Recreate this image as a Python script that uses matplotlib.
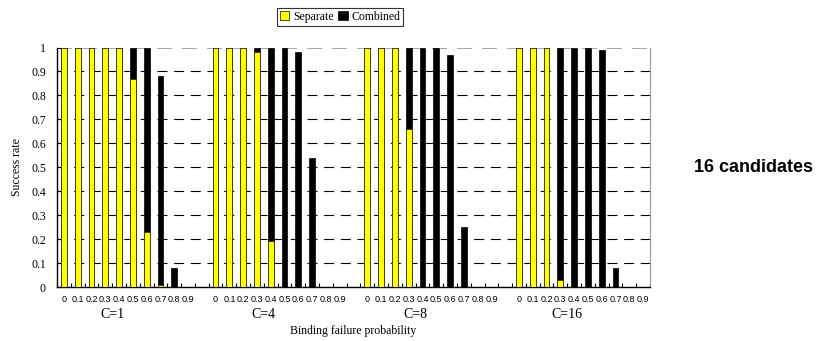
import matplotlib
matplotlib.use("Agg")
import matplotlib.pyplot as plt
import numpy as np

# ---- data ----
probabilities = ['0', '0.1', '0.2', '0.3', '0.4', '0.5', '0.6', '0.7', '0.8', '0.9']
groups = ['C=1', 'C=4', 'C=8', 'C=16']

separate_c1 = [1, 1, 1, 1, 1, 0.87, 0.23, 0.01, 0, 0]
combined_c1 = [1, 1, 1, 1, 1, 1, 1, 0.88, 0.08, 0]
separate_c4 = [1, 1, 1, 0.98, 0.19, 0, 0, 0, 0, 0]
combined_c4 = [1, 1, 1, 1, 1, 1, 0.98, 0.54, 0, 0]
separate_c8 = [1, 1, 1, 0.66, 0, 0, 0, 0, 0, 0]
combined_c8 = [1, 1, 1, 1, 1, 1, 0.97, 0.25, 0, 0]
separate_c16 = [1, 1, 1, 0.03, 0, 0, 0, 0, 0, 0]
combined_c16 = [1, 1, 1, 1, 1, 1, 0.99, 0.08, 0, 0]

separate = [separate_c1, separate_c4, separate_c8, separate_c16]
combined = [combined_c1, combined_c4, combined_c8, combined_c16]

yticks = [0, 0.1, 0.2, 0.3, 0.4, 0.5, 0.6, 0.7, 0.8, 0.9, 1]
ytick_labels = ['0', '0.1', '0.2', '0.3', '0.4', '0.5', '0.6', '0.7', '0.8', '0.9', '1']

serif = 'Liberation Serif'
sans = 'Liberation Sans'

fig = plt.figure(figsize=(8.19, 3.41), dpi=100)
W, H = 819, 341
ax = fig.add_axes([57 / W, 1 - 287 / H, (650 - 57) / W, (287 - 47.5) / H])

n = len(probabilities)
stride = n + 1
bw = 0.42
for g in range(len(groups)):
    xs = np.arange(n) + g * stride
    ax.bar(xs, combined[g], width=bw, color='black', edgecolor='black', linewidth=0.5, zorder=2,
           label='Combined' if g == 0 else None)
    ax.bar(xs, separate[g], width=bw, color='#FFFF00', edgecolor='#333300', linewidth=0.6, zorder=3,
           label='Separate' if g == 0 else None)

total = len(groups) * stride - 1
ax.set_xlim(-0.5, total - 0.5)
ax.set_ylim(0, 1)

# x ticks: labels at category centers, tick marks at category boundaries
centers = []
labels = []
for g in range(len(groups)):
    for i in range(n):
        centers.append(g * stride + i)
        labels.append(probabilities[i])
ax.set_xticks(centers)
ax.set_xticklabels(labels, fontsize=6.5, family=sans)
ax.tick_params(axis='x', which='major', length=0, pad=6)
ax.set_xticks(np.arange(-0.5, total, 1.0), minor=True)
ax.tick_params(axis='x', which='minor', direction='in', length=3, width=0.8)

ax.set_yticks(yticks)
ax.set_yticklabels(ytick_labels, fontsize=8.5, family=serif)
ax.tick_params(axis='y', direction='in', length=3, width=0.8, pad=8)

# grid lines
for y in yticks[1:-1]:
    ax.axhline(y, color='black', linewidth=0.8, linestyle=(0, (9, 6)), zorder=1)
ax.axhline(1, color='#999999', linewidth=1.2, linestyle=(0, (9, 6)), zorder=1)

ax.spines['top'].set_visible(False)
ax.spines['right'].set_color('#999999')
ax.spines['right'].set_linewidth(0.8)
ax.spines['left'].set_linewidth(1.0)
ax.spines['bottom'].set_linewidth(1.0)

# group labels
for g, name in enumerate(groups):
    ax.text(g * stride + 3.5, -0.113, name, transform=ax.get_xaxis_transform(),
            ha='center', va='center', fontsize=10, family=serif)

ax.set_xlabel('Binding failure probability', fontsize=8.5, family=serif, labelpad=15)
ax.set_ylabel('Success rate', fontsize=8.5, family=serif, labelpad=6)

handles, lbls = ax.get_legend_handles_labels()
order = [lbls.index('Separate'), lbls.index('Combined')]
leg = fig.legend([handles[i] for i in order], [lbls[i] for i in order],
                 loc='center', bbox_to_anchor=(340 / W, 1 - 17 / H), ncol=2,
                 prop={'family': serif, 'size': 8.5}, frameon=True, fancybox=False,
                 handlelength=0.8, handleheight=0.8, handletextpad=0.3, columnspacing=0.4,
                 borderpad=0.25, borderaxespad=0.2, edgecolor='black')
leg.get_frame().set_linewidth(0.8)

fig.text(754 / W, 1 - 167 / H, '16 candidates', ha='center', va='center',
         fontsize=13, fontweight='bold', family=sans)

fig.savefig('out.png', dpi=100)
